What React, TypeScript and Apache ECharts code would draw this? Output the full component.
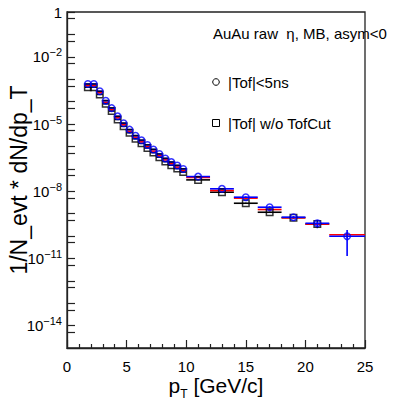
import React, { useEffect, useRef } from "react";
import * as echarts from "echarts";

// pT bin centres and edges [GeV/c]
const ptCenters = [1.75, 2.25, 2.75, 3.25, 3.75, 4.25, 4.75, 5.25, 5.75, 6.25, 6.75, 7.25, 7.75, 8.25, 8.75, 9.25, 9.75, 11, 13, 15, 17, 19, 21, 23.5];
const ptLow = [1.5, 2.0, 2.5, 3.0, 3.5, 4.0, 4.5, 5.0, 5.5, 6.0, 6.5, 7.0, 7.5, 8.0, 8.5, 9.0, 9.5, 10, 12, 14, 16, 18, 20, 22];
const ptHigh = [2.0, 2.5, 3.0, 3.5, 4.0, 4.5, 5.0, 5.5, 6.0, 6.5, 7.0, 7.5, 8.0, 8.5, 9.0, 9.5, 10, 12, 14, 16, 18, 20, 22, 25];

// |Tof|<5ns (blue, circles)
const blueValues = [6.1e-4, 6.1e-4, 2.9e-4, 1.1e-4, 5.1e-5, 2.2e-5, 1.08e-5, 5.6e-6, 3.0e-6, 1.87e-6, 1.16e-6, 7.3e-7, 4.6e-7, 2.9e-7, 2.0e-7, 1.4e-7, 9.8e-8, 4.5e-8, 1.28e-8, 5.4e-9, 1.93e-9, 6.9e-10, 3.7e-10, 9.8e-11];
const blueRelErr = [0.01, 0.01, 0.01, 0.01, 0.01, 0.01, 0.01, 0.01, 0.01, 0.01, 0.01, 0.01, 0.01, 0.01, 0.02, 0.02, 0.02, 0.03, 0.05, 0.08, 0.1, 0.12, 0.4, 0.87];
// middle (red)
const redValues = [5.2e-4, 5.2e-4, 2.5e-4, 9.4e-5, 4.4e-5, 1.9e-5, 9.2e-6, 4.8e-6, 2.6e-6, 1.6e-6, 9.9e-7, 6.2e-7, 3.9e-7, 2.5e-7, 1.7e-7, 1.2e-7, 8.4e-8, 4.1e-8, 1.07e-8, 4.9e-9, 1.52e-9, 6.5e-10, 3.4e-10, 1.13e-10];
const redRelErr = [0.01, 0.01, 0.01, 0.01, 0.01, 0.01, 0.01, 0.01, 0.01, 0.01, 0.01, 0.01, 0.01, 0.01, 0.02, 0.02, 0.02, 0.03, 0.04, 0.06, 0.08, 0.1, 0.15, 0.27];
// |Tof| w/o TofCut (black, squares)
const blackValues = [4.4e-4, 4.4e-4, 2.1e-4, 8.0e-5, 3.8e-5, 1.6e-5, 7.9e-6, 4.1e-6, 2.2e-6, 1.37e-6, 8.5e-7, 5.3e-7, 3.3e-7, 2.1e-7, 1.45e-7, 1.03e-7, 7.2e-8, 3.2e-8, 9.0e-9, 2.9e-9, 1.15e-9, 6.6e-10, 3.4e-10, null];
const blackRelErr = [0.01, 0.01, 0.01, 0.01, 0.01, 0.01, 0.01, 0.01, 0.01, 0.01, 0.01, 0.01, 0.01, 0.01, 0.02, 0.02, 0.02, 0.03, 0.04, 0.05, 0.06, 0.08, 0.1, 0.1];

const xTickLabels = [0, 5, 10, 15, 20, 25];
const yTickValues = [1, 0.5, 1e-1, 5e-2, 1e-2, 5e-3, 1e-3, 5e-4, 1e-4, 5e-5, 1e-5, 5e-6, 1e-6, 5e-7, 1e-7, 5e-8, 1e-8, 5e-9, 1e-9, 5e-10, 1e-10, 5e-11, 1e-11, 5e-12, 1e-12, 5e-13, 1e-13, 5e-14, 1e-14, 5e-15];
const yLabelValues = [1, 1e-2, 1e-5, 1e-8, 1e-11, 1e-14];

const FONT = "Liberation Sans, Arial, Helvetica, sans-serif";

function buildErr(values: (number | null)[], rel: number[]) {
  const out: any[] = [];
  values.forEach((v, i) => {
    if (v == null) return;
    out.push([ptCenters[i], v, ptLow[i], ptHigh[i], rel[i]]);
  });
  return out;
}
function buildPts(values: (number | null)[]) {
  const out: any[] = [];
  values.forEach((v, i) => {
    if (v == null) return;
    out.push([ptCenters[i], v]);
  });
  return out;
}

function errSeries(name: string, color: string, values: (number | null)[], rel: number[], z: number) {
  return {
    type: "custom",
    name,
    z,
    data: buildErr(values, rel),
    encode: { x: 0, y: 1 },
    renderItem: (_p: any, api: any) => {
      const x = api.value(0);
      const y = api.value(1);
      const x0 = api.value(2);
      const x1 = api.value(3);
      const e = api.value(4);
      const pl = api.coord([x0, y]);
      const pr = api.coord([x1, y]);
      const pt = api.coord([x, y * (1 + e)]);
      const pb = api.coord([x, y * (1 - e)]);
      return {
        type: "group",
        children: [
          { type: "line", shape: { x1: pl[0], y1: pl[1], x2: pr[0], y2: pr[1] }, style: { stroke: color, lineWidth: 1.6 } },
          { type: "line", shape: { x1: pt[0], y1: pt[1], x2: pb[0], y2: pb[1] }, style: { stroke: color, lineWidth: 1.6 } },
        ],
      };
    },
  };
}

export default function App() {
  const ref = useRef<HTMLDivElement>(null);
  useEffect(() => {
    if (!ref.current) return;
    const chart = echarts.init(ref.current, undefined, { renderer: "svg" });
    const option: any = {
      animation: false,
      backgroundColor: "#ffffff",
      grid: { left: 67, right: 40, top: 12, bottom: 52, show: true, borderColor: "#222", borderWidth: 1.3, backgroundColor: "transparent" },
      xAxis: {
        type: "value",
        min: 0,
        max: 25,
        interval: 5,
        axisLine: { show: true, lineStyle: { color: "#222", width: 1.3 } },
        axisTick: { show: true, inside: true, length: 8, lineStyle: { color: "#222", width: 1.2 } },
        minorTick: { show: true, splitNumber: 5, length: 4, lineStyle: { color: "#222", width: 1.2 } },
        splitLine: { show: false },
        axisLabel: {
          color: "#000",
          fontSize: 15,
          fontFamily: FONT,
          margin: 11,
          formatter: (v: number) => (xTickLabels.indexOf(v) >= 0 ? String(v) : ""),
        },
      },
      yAxis: {
        type: "log",
        logBase: 10,
        min: 1e-15,
        max: 1,
        axisLine: { show: true, lineStyle: { color: "#222", width: 1.3 } },
        axisTick: { show: true, inside: true, length: 8, customValues: yTickValues, lineStyle: { color: "#222", width: 1.2 } },
        splitLine: { show: false },
        axisLabel: {
          customValues: yLabelValues,
          color: "#000",
          margin: 5,
          fontFamily: FONT,
          formatter: (v: number) => {
            const ex = Math.round(Math.log10(v));
            if (ex === 0) return "{b|1}";
            return "{b|10}{s|\u2212" + Math.abs(ex) + "}";
          },
          rich: {
            b: { fontSize: 15, fontFamily: FONT, color: "#000" },
            s: { fontSize: 11, fontFamily: FONT, color: "#000", padding: [0, 0, 9, 0] },
          },
        },
      },
      series: [
        errSeries("black", "#000000", blackValues, blackRelErr, 2),
        errSeries("red", "#ff0000", redValues, redRelErr, 3),
        errSeries("blue", "#0000ff", blueValues, blueRelErr, 4),
        {
          type: "scatter",
          name: "|Tof| w/o TofCut",
          z: 5,
          symbol: "rect",
          symbolSize: 6.5,
          data: buildPts(blackValues),
          itemStyle: { color: "rgba(255,255,255,0)", borderColor: "#000", borderWidth: 1.5 },
        },
        {
          type: "scatter",
          name: "|Tof|<5ns",
          z: 6,
          symbol: "circle",
          symbolSize: 6.5,
          data: buildPts(blueValues),
          itemStyle: { color: "rgba(255,255,255,0)", borderColor: "#0000ff", borderWidth: 1.5 },
        },
      ],
      graphic: [
        {
          type: "text",
          x: 19,
          y: 180,
          rotation: Math.PI / 2,
          style: { text: "1/N_evt * dN/dp_T", font: "23px " + FONT, fill: "#000", textAlign: "center", textVerticalAlign: "middle" },
        },
        {
          type: "text",
          x: 216,
          y: 385,
          style: {
            text: "{p|p}{s|T}{p| [GeV/c]}",
            textAlign: "center",
            textVerticalAlign: "middle",
            rich: {
              p: { fontSize: 21, fontFamily: FONT, fill: "#000" },
              s: { fontSize: 12, fontFamily: FONT, fill: "#000", padding: [17, 0, 0, 0] },
            },
          },
        },
        {
          type: "text",
          x: 213,
          y: 33,
          style: { text: "AuAu raw  \u03b7, MB, asym<0", font: "15px " + FONT, fill: "#000", textVerticalAlign: "middle" },
        },
        { type: "circle", shape: { cx: 216, cy: 82, r: 3.3 }, style: { fill: "none", stroke: "#000", lineWidth: 1 } },
        {
          type: "text",
          x: 228,
          y: 82,
          style: { text: "|Tof|<5ns", font: "15px " + FONT, fill: "#000", textVerticalAlign: "middle" },
        },
        { type: "rect", shape: { x: 212.5, y: 119.5, width: 7, height: 7 }, style: { fill: "none", stroke: "#000", lineWidth: 1 } },
        {
          type: "text",
          x: 228,
          y: 123,
          style: { text: "|Tof| w/o TofCut", font: "15px " + FONT, fill: "#000", textVerticalAlign: "middle" },
        },
      ],
    };
    chart.setOption(option);
    return () => chart.dispose();
  }, []);
  return <div ref={ref} style={{ position: "fixed", left: 0, top: 0, width: 405, height: 400 }} />;
}
